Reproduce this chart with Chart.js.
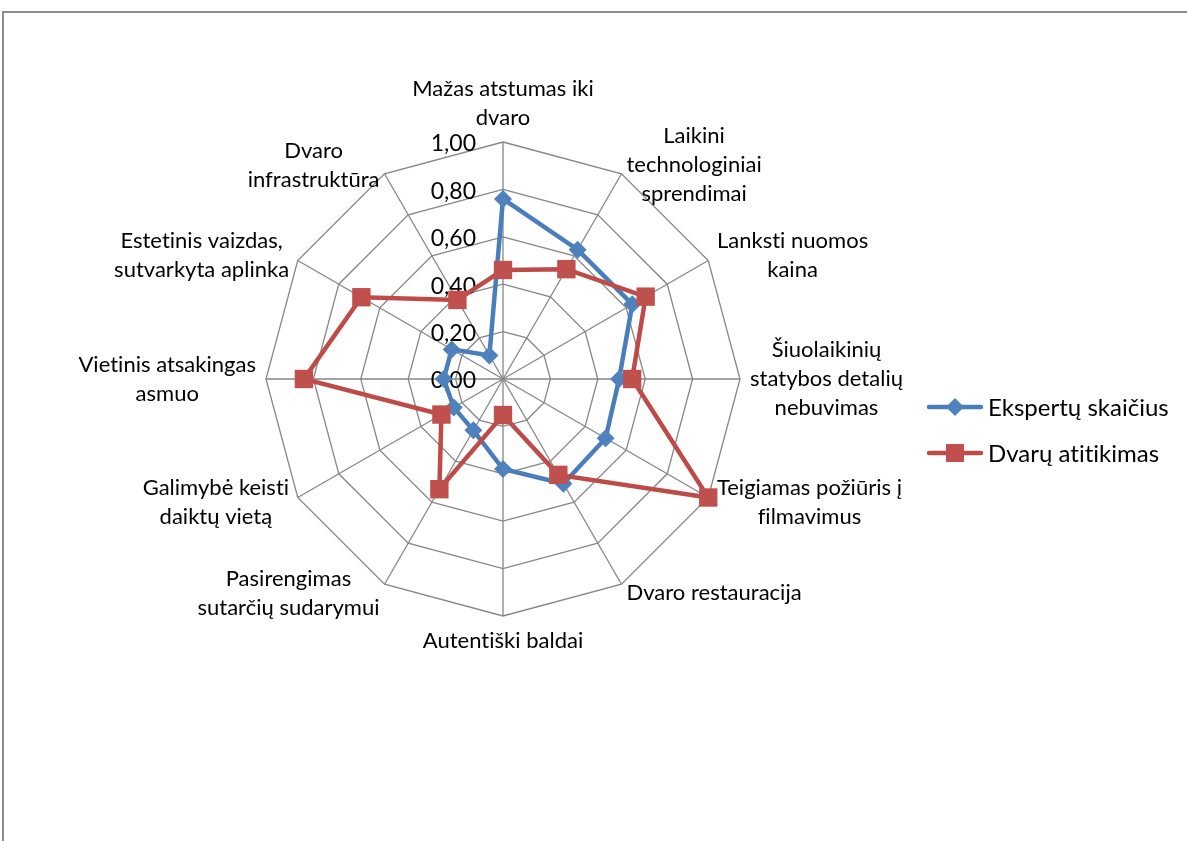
<!DOCTYPE html>
<html>
<head>
<meta charset="utf-8">
<script src="https://cdn.jsdelivr.net/npm/chart.js@4.4.1/dist/chart.umd.min.js"></script>
<style>
  body { margin: 0; background: #fff; }
  #wrap { position: relative; width: 1187px; height: 841px; overflow: hidden; }
  #frame { position: absolute; left: 2px; top: 11px; width: 1300px; height: 900px;
           border-left: 2px solid #8c8c8c; border-top: 2px solid #8c8c8c; }
  canvas { position: absolute; left: 0; top: 0; }
</style>
</head>
<body>
<div id="wrap">
  <div id="frame"></div>
  <canvas id="radarChart" width="1187" height="841"></canvas>
</div>
<script>
const categories = [
    ['Mažas atstumas iki', 'dvaro'],
    ['Laikini', 'technologiniai', 'sprendimai'],
    ['Lanksti nuomos', 'kaina'],
    ['Šiuolaikinių', 'statybos detalių', 'nebuvimas'],
    ['Teigiamas požiūris į', 'filmavimus'],
    ['Dvaro restauracija'],
    ['Autentiški baldai'],
    ['Pasirengimas', 'sutarčių sudarymui'],
    ['Galimybė keisti', 'daiktų vietą'],
    ['Vietinis atsakingas', 'asmuo'],
    ['Estetinis vaizdas,', 'sutvarkyta aplinka'],
    ['Dvaro', 'infrastruktūra']
];
const ekspertuSkaicius = [0.76, 0.63, 0.63, 0.49, 0.50, 0.51, 0.38, 0.25, 0.24, 0.25, 0.25, 0.115];
const dvaruAtitikimas = [0.46, 0.535, 0.695, 0.545, 1.00, 0.467, 0.152, 0.537, 0.30, 0.84, 0.69, 0.385];
const tickValues = [0, 0.2, 0.4, 0.6, 0.8, 1.0];
const tickLabels = ['0,00', '0,20', '0,40', '0,60', '0,80', '1,00'];

const BLUE = '#4a7ebb';
const RED = '#be4b48';
const GRID = '#868686';
const FONT = 'Lato, "Noto Sans", sans-serif';

// tick labels, drawn left of the top axis, under the series
const tickLabelPlugin = {
    id: 'tickLabels',
    beforeDatasetsDraw: (chart) => {
        const scale = chart.scales.r;
        const ctx = chart.ctx;
        ctx.save();
        ctx.font = '23px ' + FONT;
        ctx.fillStyle = '#000';
        ctx.textAlign = 'right';
        ctx.textBaseline = 'middle';
        tickValues.forEach((v, i) => {
            const y = scale.yCenter - scale.getDistanceFromCenterForValue(v) + 2;
            ctx.fillText(tickLabels[i], scale.xCenter - 27, y);
        });
        ctx.restore();
    }
};

// category labels as centred text blocks outside the web
const pointLabelPlugin = {
    id: 'pointLabelBlocks',
    afterDraw: (chart) => {
        const scale = chart.scales.r;
        const ctx = chart.ctx;
        const lh = 29;
        ctx.save();
        ctx.font = '22px ' + FONT;
        ctx.letterSpacing = '0.01px'; // keeps "ti" from joining
        ctx.fillStyle = '#000';
        ctx.textBaseline = 'middle';
        ctx.textAlign = 'center';
        categories.forEach((lines, i) => {
            const pos = scale.getPointPosition(i, scale.drawingArea + 10);
            const w = Math.max(...lines.map(l => ctx.measureText(l).width));
            const h = lines.length * lh;
            let cx, top;
            if (Math.abs(pos.x - scale.xCenter) < 2) {
                cx = pos.x;
                top = pos.y < scale.yCenter ? pos.y - h : pos.y;
            } else {
                cx = pos.x > scale.xCenter ? pos.x + w / 2 : pos.x - w / 2;
                top = pos.y - h / 2;
            }
            lines.forEach((l, k) => ctx.fillText(l, cx, top + lh * k + lh / 2));
        });
        ctx.restore();
    }
};

// legend: line with marker through it, like the original
const legendPlugin = {
    id: 'lineLegend',
    afterDraw: (chart) => {
        const ctx = chart.ctx;
        const items = [
            { text: 'Ekspertų skaičius', color: BLUE, fill: '#4f81bd', shape: 'diamond', y: 407 },
            { text: 'Dvarų atitikimas', color: RED, fill: '#c0504d', shape: 'square', y: 453 }
        ];
        ctx.save();
        items.forEach(it => {
            ctx.strokeStyle = it.color;
            ctx.lineWidth = 4.5;
            ctx.lineCap = 'round';
            ctx.beginPath();
            ctx.moveTo(929, it.y);
            ctx.lineTo(981, it.y);
            ctx.stroke();
            ctx.fillStyle = it.fill;
            ctx.beginPath();
            if (it.shape === 'diamond') {
                ctx.moveTo(955, it.y - 9);
                ctx.lineTo(964, it.y);
                ctx.lineTo(955, it.y + 9);
                ctx.lineTo(946, it.y);
            } else {
                ctx.rect(946, it.y - 9, 18, 18);
            }
            ctx.closePath();
            ctx.fill();
            ctx.fillStyle = '#000';
            ctx.font = '24px ' + FONT;
            ctx.letterSpacing = '0.01px';
            ctx.textAlign = 'left';
            ctx.textBaseline = 'middle';
            ctx.fillText(it.text, 988, it.y + 1);
        });
        ctx.restore();
    }
};

const ctx = document.getElementById('radarChart').getContext('2d');
const radarChart = new Chart(ctx, {
    type: 'radar',
    data: {
        labels: categories,
        datasets: [{
            label: 'Ekspertų skaičius',
            data: ekspertuSkaicius,
            borderColor: BLUE,
            backgroundColor: '#4f81bd',
            borderWidth: 4.5,
            pointStyle: 'rectRot',
            pointRadius: 9,
            pointBorderWidth: 0,
            pointBackgroundColor: '#4f81bd',
            fill: false,
            order: 1
        },
        {
            label: 'Dvarų atitikimas',
            data: dvaruAtitikimas,
            borderColor: RED,
            backgroundColor: '#c0504d',
            borderWidth: 4.5,
            pointStyle: 'rect',
            pointRadius: 13,
            pointBorderWidth: 0,
            pointBackgroundColor: '#c0504d',
            fill: false,
            order: 0
        }]
    },
    options: {
        responsive: false,
        animation: false,
        layout: {
            padding: { left: 266, top: 142, right: 447, bottom: 225 }
        },
        elements: {
            line: { tension: 0 }
        },
        scales: {
            r: {
                min: 0,
                max: 1,
                ticks: { stepSize: 0.2, display: false },
                pointLabels: { display: false },
                angleLines: { display: true, color: GRID, lineWidth: 1.3 },
                grid: { color: GRID, lineWidth: 1.3 }
            }
        },
        plugins: {
            legend: { display: false },
            tooltip: { enabled: false }
        }
    },
    plugins: [tickLabelPlugin, pointLabelPlugin, legendPlugin]
});
</script>
</body>
</html>
